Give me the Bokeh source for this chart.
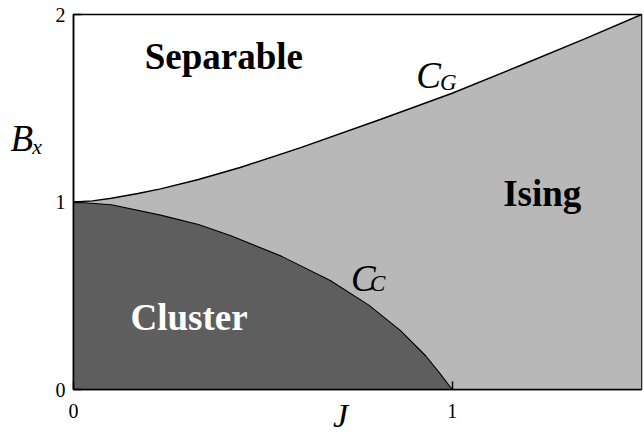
from bokeh.plotting import figure
from bokeh.models import Label, FixedTicker, Range1d, LinearAxis
from bokeh.embed import file_html
from bokeh.resources import INLINE

# Boundary curve C_G (Separable / Ising)
j_g = [0.0, 0.05, 0.1, 0.17, 0.23, 0.33, 0.44, 0.6, 0.81, 1.0, 1.18, 1.35, 1.5]
b_g = [1.0, 1.006, 1.02, 1.045, 1.07, 1.12, 1.184, 1.29, 1.44, 1.58, 1.728, 1.87, 2.0]

# Boundary curve C_C (Cluster / Ising)
j_c = [0.0, 0.1, 0.23, 0.33, 0.414, 0.55, 0.678, 0.78, 0.863, 0.93, 0.968, 1.0]
b_c = [1.0, 0.985, 0.93, 0.88, 0.821, 0.71, 0.581, 0.45, 0.315, 0.18, 0.085, 0.0]

x_ticks = [0, 1]
y_ticks = [0, 1, 2]
x_min, x_max = 0.0, 1.5
y_min, y_max = 0.0, 2.0
y_name_pos = 1.34

SERIF = "Liberation Serif"

p = figure(width=644, height=441,
           x_range=Range1d(x_min, x_max), y_range=Range1d(y_min, y_max),
           output_backend="svg", toolbar_location=None,
           min_border_left=73, min_border_right=3,
           min_border_top=14, min_border_bottom=52)

p.xgrid.visible = False
p.ygrid.visible = False
p.background_fill_color = "white"
p.border_fill_color = "white"
p.outline_line_color = "black"
p.outline_line_width = 1.5

# Ising region (light) under C_G
p.patch(j_g + [x_max, x_min], b_g + [y_min, y_min],
        fill_color="#b8b8b8", line_color=None)
# Cluster region (dark) under C_C
p.patch([x_min] + j_c, [y_min] + b_c,
        fill_color="#5e5e5e", line_color=None)

p.line(j_g, b_g, line_color="black", line_width=1.5)
p.line(j_c, b_c, line_color="black", line_width=1.1)

for ax, ticks in ((p.xaxis, x_ticks), (p.yaxis, y_ticks)):
    ax.ticker = FixedTicker(ticks=ticks)
    ax.minor_tick_line_color = None
    ax.major_tick_in = 8
    ax.major_tick_out = 0
    ax.major_tick_line_width = 1.5
    ax.major_tick_line_color = "black"
    ax.axis_line_color = "black"
    ax.axis_line_width = 1.5
    ax.major_label_text_font = SERIF
    ax.major_label_text_font_size = "20px"
    ax.major_label_text_color = "black"

p.xaxis.major_label_standoff = 14
p.yaxis.major_label_standoff = 8

# x axis name (em space after J shifts the centred name a little left)
p.xaxis.axis_label = "J\u2003"
p.xaxis.axis_label_text_font = SERIF
p.xaxis.axis_label_text_font_style = "italic"
p.xaxis.axis_label_text_font_size = "34px"
p.xaxis.axis_label_text_color = "black"
p.xaxis.axis_label_standoff = -24

# y axis name as a horizontal label on an extra left axis
name_axis = LinearAxis(ticker=FixedTicker(ticks=[y_name_pos]),
                       major_label_overrides={y_name_pos: "Bₓ"})
name_axis.axis_line_color = None
name_axis.major_tick_line_color = None
name_axis.minor_tick_line_color = None
name_axis.major_label_standoff = 3
name_axis.major_label_text_font = SERIF
name_axis.major_label_text_font_style = "italic"
name_axis.major_label_text_font_size = "37px"
name_axis.major_label_text_color = "black"
p.add_layout(name_axis, "left")

def lab(x, y, text, size, style="normal", color="black", align="left"):
    p.add_layout(Label(x=x, y=y, text=text, text_font=SERIF,
                       text_font_size=size, text_font_style=style,
                       text_color=color, text_align=align,
                       text_baseline="alphabetic"))

# Region names
lab(0.397, 1.776, "Separable", "37px", "bold", align="center")
lab(1.238, 1.048, "Ising", "37px", "bold", align="center")
lab(0.305, 0.386, "Cluster", "37px", "bold", color="white", align="center")

# Curve names
lab(0.905, 1.677, "C", "37px", "italic")
lab(0.968, 1.638, "G", "23px", "italic")
lab(0.733, 0.594, "C", "37px", "italic")
lab(0.783, 0.566, "C", "23px", "italic")

open("out.html", "w").write(file_html(p, INLINE))
